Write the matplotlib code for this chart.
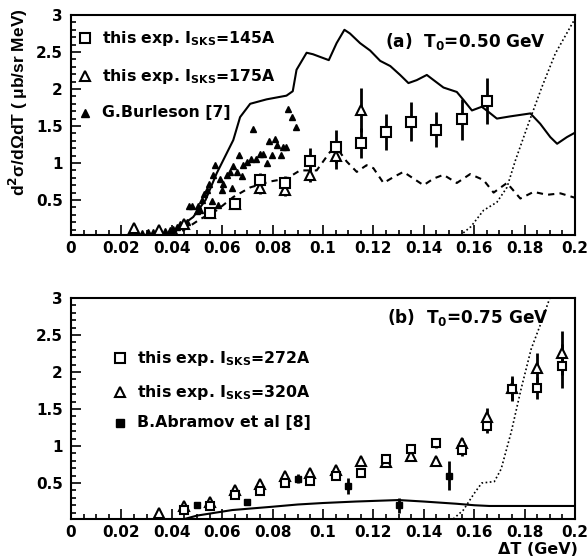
import numpy as np
from matplotlib import pyplot as plt
from matplotlib.ticker import MultipleLocator, FuncFormatter

plt.rcParams['font.family'] = ['DejaVu Sans']
plt.rcParams['font.weight'] = 'bold'
plt.rcParams['mathtext.fontset'] = 'custom'
plt.rcParams['mathtext.rm'] = 'DejaVu Sans:bold'
plt.rcParams['mathtext.bf'] = 'DejaVu Sans:bold'
plt.rcParams['mathtext.it'] = 'DejaVu Sans:bold'
plt.rcParams['mathtext.default'] = 'bf'

# ---------------- panel (a) T0 = 0.50 GeV ----------------
a_sq_x = [0.055, 0.065, 0.075, 0.085, 0.095, 0.105, 0.115, 0.125, 0.135, 0.145, 0.155, 0.165]
a_sq_y = [0.33, 0.45, 0.77, 0.73, 1.03, 1.22, 1.27, 1.42, 1.56, 1.45, 1.59, 1.84]
a_sq_e = [0.04, 0.05, 0.10, 0.10, 0.17, 0.22, 0.20, 0.24, 0.26, 0.24, 0.28, 0.31]

a_tr_x = [0.025, 0.035, 0.045, 0.055, 0.065, 0.075, 0.085, 0.095, 0.105, 0.115]
a_tr_y = [0.12, 0.09, 0.17, 0.33, 0.45, 0.66, 0.64, 0.84, 1.09, 1.72]
a_tr_e = [0.02, 0.02, 0.03, 0.04, 0.05, 0.08, 0.08, 0.10, 0.17, 0.30]

burl_x = [0.028, 0.0305, 0.0325, 0.035, 0.0373, 0.0393, 0.0406, 0.042, 0.0433, 0.0446,
          0.046, 0.047, 0.048, 0.0499, 0.0505, 0.0512, 0.052, 0.0528, 0.0538, 0.0548,
          0.0558, 0.0565, 0.0571, 0.0585, 0.059, 0.0601, 0.0605, 0.0618, 0.0629, 0.0637,
          0.0644, 0.0657, 0.0668, 0.0677, 0.0683, 0.0697, 0.0716, 0.0723, 0.0736, 0.0749,
          0.0763, 0.0776, 0.0787, 0.0796, 0.0809, 0.0818, 0.0832, 0.0842, 0.0855, 0.0862,
          0.0875, 0.0891]
burl_y = [0.06, 0.07, 0.07, 0.10, 0.08, 0.10, 0.11, 0.14, 0.17, 0.18,
          0.20, 0.42, 0.42, 0.35, 0.42, 0.36, 0.50, 0.58, 0.64, 0.71,
          0.49, 0.84, 0.97, 0.43, 0.78, 0.64, 0.71, 0.84, 0.88, 0.66,
          0.96, 0.88, 1.11, 0.83, 0.97, 1.01, 1.06, 1.46, 1.06, 1.12,
          1.12, 1.00, 1.30, 1.11, 1.32, 1.24, 1.11, 1.21, 1.22, 1.73,
          1.62, 1.48]

a_solid_x = [0.040, 0.0433, 0.0485, 0.0534, 0.0578, 0.0644, 0.0671, 0.0711, 0.0776, 0.0855,
             0.0880, 0.0895, 0.0935, 0.0960, 0.1023, 0.1054, 0.1085, 0.1107, 0.1147, 0.1187,
             0.1227, 0.1267, 0.1306, 0.1339, 0.1372, 0.1412, 0.1439, 0.1478, 0.1531, 0.1558,
             0.1591, 0.1630, 0.1657, 0.1690, 0.1743, 0.1823, 0.1862, 0.1902, 0.1929, 0.1968,
             0.2000]
a_solid_y = [0.02, 0.14, 0.27, 0.50, 0.86, 1.31, 1.62, 1.80, 1.86, 1.91,
             1.97, 2.26, 2.49, 2.47, 2.39, 2.62, 2.80, 2.75, 2.62, 2.52,
             2.38, 2.31, 2.19, 2.08, 2.12, 2.19, 2.12, 2.02, 1.96, 1.85,
             1.71, 1.76, 1.69, 1.60, 1.63, 1.67, 1.53, 1.35, 1.26, 1.35,
             1.41]

a_dash_x = [0.040, 0.0433, 0.0512, 0.0578, 0.0644, 0.0711, 0.0790, 0.0856, 0.0909, 0.0975,
            0.1028, 0.1060, 0.1094, 0.1134, 0.1173, 0.1200, 0.1240, 0.1280, 0.1319, 0.1359,
            0.1399, 0.1439, 0.1478, 0.1531, 0.1584, 0.1637, 0.1677, 0.1730, 0.1783, 0.1836,
            0.1889, 0.1942, 0.2000]
a_dash_y = [0.02, 0.06, 0.24, 0.36, 0.54, 0.67, 0.75, 0.79, 0.90, 0.90,
            1.15, 1.18, 1.02, 0.88, 0.97, 0.93, 0.73, 0.81, 0.88, 0.79,
            0.70, 0.79, 0.84, 0.73, 0.85, 0.77, 0.60, 0.73, 0.52, 0.61,
            0.57, 0.59, 0.53]

a_dot_x = [0.1544, 0.1587, 0.1637, 0.1690, 0.1730, 0.1763, 0.1815, 0.1869, 0.1922, 0.2000]
a_dot_y = [0.02, 0.14, 0.36, 0.47, 0.67, 1.03, 1.53, 2.03, 2.48, 2.95]

# ---------------- panel (b) T0 = 0.75 GeV ----------------
b_sq_x = [0.045, 0.055, 0.065, 0.075, 0.085, 0.095, 0.105, 0.115, 0.125, 0.135, 0.145,
          0.155, 0.165, 0.175, 0.185, 0.195]
b_sq_y = [0.135, 0.19, 0.34, 0.39, 0.50, 0.53, 0.59, 0.64, 0.83, 0.96, 1.04,
          0.95, 1.27, 1.77, 1.78, 2.08]
b_sq_e = [0.03, 0.03, 0.03, 0.03, 0.04, 0.04, 0.04, 0.04, 0.05, 0.06, 0.07,
          0.08, 0.10, 0.15, 0.15, 0.30]

b_tr_x = [0.035, 0.045, 0.055, 0.065, 0.075, 0.085, 0.095, 0.105, 0.115, 0.125, 0.135,
          0.145, 0.155, 0.165, 0.175, 0.185, 0.195]
b_tr_y = [0.09, 0.19, 0.25, 0.41, 0.49, 0.59, 0.64, 0.68, 0.80, 0.79, 0.86,
          0.80, 1.04, 1.39, 1.78, 2.06, 2.26]
b_tr_e = [0.02, 0.03, 0.03, 0.03, 0.03, 0.04, 0.04, 0.04, 0.04, 0.05, 0.05,
          0.05, 0.07, 0.12, 0.17, 0.20, 0.30]

abr_x = [0.05, 0.07, 0.09, 0.11, 0.13, 0.15]
abr_y = [0.20, 0.24, 0.56, 0.46, 0.20, 0.60]
abr_e = [0.02, 0.03, 0.06, 0.11, 0.10, 0.20]

b_solid_x = [0.0446, 0.050, 0.064, 0.080, 0.090, 0.100, 0.113, 0.130, 0.140, 0.153,
             0.160, 0.166, 0.200]
b_solid_y = [0.01, 0.06, 0.135, 0.18, 0.21, 0.23, 0.25, 0.27, 0.25, 0.22,
             0.20, 0.19, 0.19]

b_dot_x = [0.1517, 0.1557, 0.160, 0.163, 0.168, 0.1707, 0.1747, 0.1786, 0.1826, 0.1866, 0.1899]
b_dot_y = [0.015, 0.135, 0.36, 0.50, 0.52, 0.69, 1.19, 1.77, 2.31, 2.67, 2.99]

leg_a = [r'this exp. I$_{\mathregular{SKS}}$=145A', r'this exp. I$_{\mathregular{SKS}}$=175A', 'G.Burleson [7]']
leg_b = [r'this exp. I$_{\mathregular{SKS}}$=272A', r'this exp. I$_{\mathregular{SKS}}$=320A', 'B.Abramov et al [8]']

# 画图
W, H = 588, 559
fig = plt.figure(figsize=(W / 100, H / 100), dpi=100)
ax1 = fig.add_axes([71 / W, 1 - 235 / H, 504 / W, 220 / H])
ax2 = fig.add_axes([71 / W, 1 - 519 / H, 504 / W, 221 / H])

fmt = FuncFormatter(lambda v, p: '0' if abs(v) < 1e-9 else ('%g' % round(v, 3)))


def style(ax, ymin):
    ax.set_xlim(0, 0.2)
    ax.set_ylim(ymin, 3)
    ax.xaxis.set_major_locator(MultipleLocator(0.02))
    ax.xaxis.set_minor_locator(MultipleLocator(0.005))
    ax.yaxis.set_major_locator(MultipleLocator(0.5))
    ax.yaxis.set_minor_locator(MultipleLocator(0.1))
    ax.xaxis.set_major_formatter(fmt)
    ax.yaxis.set_major_formatter(fmt)
    ax.tick_params(which='both', direction='in', top=False, right=False, width=1.2)
    ax.tick_params(which='major', length=7, labelsize=11)
    ax.tick_params(axis='x', which='major', pad=4)
    ax.tick_params(axis='y', which='major', pad=6)
    ax.tick_params(which='minor', length=3.5)
    for s in ax.spines.values():
        s.set_linewidth(1.5)
    for lab in ax.get_xticklabels() + ax.get_yticklabels():
        lab.set_fontweight('bold')


style(ax1, 0.027)
style(ax2, 0.014)

ebkw = dict(ls='none', ecolor='black', elinewidth=2, capsize=0)
open_kw = dict(mfc='white', mec='black', mew=1.5)


def legend_row(ax, px, py, label, **mk):
    # px, py are pixel positions in the figure
    x = (px - 71) / 504
    y0 = 235 if ax is ax1 else 519
    y = (y0 - py) / (220 if ax is ax1 else 221)
    ax.plot([x], [y], transform=ax.transAxes, ls='none', clip_on=False, **mk)
    ax.text(x + 17 / 504, y, label, transform=ax.transAxes, va='center', ha='left',
            fontsize=11.3, fontweight='bold')


# panel (a)
ax1.plot(a_solid_x, a_solid_y, color='black', lw=1.5)
ax1.plot(a_dash_x, a_dash_y, color='black', lw=1.5, ls=(0, (3, 2.5)))
ax1.plot(a_dot_x, a_dot_y, color='black', lw=1.2, ls=(0, (1, 1.5)))
ax1.plot(burl_x, burl_y, ls='none', marker='^', ms=5, color='black')
ax1.errorbar(a_tr_x, a_tr_y, yerr=a_tr_e, marker='^', ms=7, **open_kw, **ebkw)
ax1.errorbar(a_sq_x, a_sq_y, yerr=a_sq_e, marker='s', ms=6.5, **open_kw, **ebkw)

legend_row(ax1, 85, 38, leg_a[0], marker='s', ms=6.5, **open_kw)
legend_row(ax1, 85, 76, leg_a[1], marker='^', ms=7, **open_kw)
legend_row(ax1, 85, 113, leg_a[2], marker='^', ms=5.5, color='black')
ax1.text((385 - 71) / 504, (235 - 42) / 220, r'(a)  T$_0$=0.50 GeV', transform=ax1.transAxes,
         va='center', ha='left', fontsize=12.2, fontweight='bold')

# panel (b)
ax2.plot(b_solid_x, b_solid_y, color='black', lw=1.5)
ax2.plot(b_dot_x, b_dot_y, color='black', lw=1.2, ls=(0, (1, 1.5)))
ax2.errorbar(abr_x, abr_y, yerr=abr_e, marker='s', ms=4.5, color='black', **ebkw)
ax2.errorbar(b_tr_x, b_tr_y, yerr=b_tr_e, marker='^', ms=6.5, **open_kw, **ebkw)
ax2.errorbar(b_sq_x, b_sq_y, yerr=b_sq_e, marker='s', ms=6, **open_kw, **ebkw)

legend_row(ax2, 120, 358, leg_b[0], marker='s', ms=6.5, **open_kw)
legend_row(ax2, 120, 392, leg_b[1], marker='^', ms=6.5, **open_kw)
legend_row(ax2, 120, 423, leg_b[2], marker='s', ms=5.5, color='black')
ax2.text((387 - 71) / 504, (519 - 317) / 221, r'(b)  T$_0$=0.75 GeV', transform=ax2.transAxes,
         va='center', ha='left', fontsize=12.2, fontweight='bold')

fig.text(18 / W, 1 - 102 / H, 'd$^2$σ/dΩdT ( μb/sr MeV)', rotation=90, ha='center', va='center',
         fontsize=12.5, fontweight='bold', family='Liberation Sans')
fig.text(538 / W, 1 - 550 / H, 'ΔT (GeV)', ha='center', va='center', fontsize=11.5, fontweight='bold')

fig.savefig('out.png', dpi=100)
